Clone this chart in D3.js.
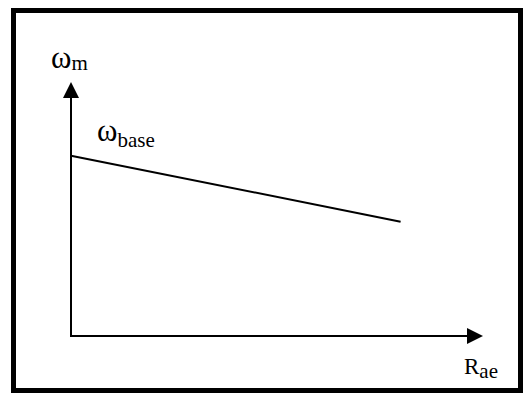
<!DOCTYPE html>
<html>
<head>
<meta charset="utf-8">
<script src="https://cdn.jsdelivr.net/npm/d3@7"></script>
<style>
  body { margin: 0; background: #fff; }
</style>
</head>
<body>
<div id="chart"></div>
<script>
// Speed vs. armature resistance (schematic)
var rae = [0, 8];          // R_ae, arbitrary units
var omega = [7.1, 4.5];    // omega_m, starts at omega_base
var axisMax = [10, 10];    // length of the arrows in data units

var width = 525, height = 394;

var svg = d3.select("#chart").append("svg")
  .attr("width", width)
  .attr("height", height);

// frame round the figure
svg.append("rect")
  .attr("x", 13.5).attr("y", 10.5)
  .attr("width", 507).attr("height", 380)
  .attr("fill", "none")
  .attr("stroke", "#000")
  .attr("stroke-width", 5);

var x = d3.scaleLinear().domain([0, axisMax[0]]).range([71, 483]);
var y = d3.scaleLinear().domain([0, axisMax[1]]).range([336, 82]);

// axes drawn as plain arrows
svg.append("line")
  .attr("x1", x(0)).attr("y1", y(0))
  .attr("x2", x(0)).attr("y2", y(axisMax[1]) + 10)
  .attr("stroke", "#000").attr("stroke-width", 2);

svg.append("line")
  .attr("x1", x(0) - 1).attr("y1", y(0))
  .attr("x2", x(axisMax[0]) - 10).attr("y2", y(0))
  .attr("stroke", "#000").attr("stroke-width", 2);

// arrow heads
var tipY = [x(0), y(axisMax[1])];
svg.append("path")
  .attr("d", "M" + tipY[0] + "," + tipY[1] + "L" + (tipY[0] - 8) + "," + (tipY[1] + 16) +
    "L" + (tipY[0] + 8) + "," + (tipY[1] + 16) + "Z")
  .attr("fill", "#000");

var tipX = [x(axisMax[0]), y(0)];
svg.append("path")
  .attr("d", "M" + tipX[0] + "," + tipX[1] + "L" + (tipX[0] - 16) + "," + (tipX[1] - 8) +
    "L" + (tipX[0] - 16) + "," + (tipX[1] + 8) + "Z")
  .attr("fill", "#000");

// the characteristic
var line = d3.line()
  .x(function (d) { return x(d[0]); })
  .y(function (d) { return y(d[1]); });

svg.append("path")
  .datum(rae.map(function (r, i) { return [r, omega[i]]; }))
  .attr("d", line)
  .attr("fill", "none")
  .attr("stroke", "#000")
  .attr("stroke-width", 2);

// labels with subscripts
function label(px, py, main, sub, mainSize, subSize, shift) {
  var t = svg.append("text")
    .attr("x", px).attr("y", py)
    .attr("font-family", "Liberation Serif")
    .attr("fill", "#000");
  t.append("tspan").attr("font-size", mainSize).text(main);
  t.append("tspan").attr("font-size", subSize).attr("dy", shift).text(sub);
}

label(51, 68, "ω", "m", 31, 21, 2);
label(97, 141, "ω", "base", 31, 21, 6);
label(464, 374, "R", "ae", 23, 21, 4);
</script>
</body>
</html>
